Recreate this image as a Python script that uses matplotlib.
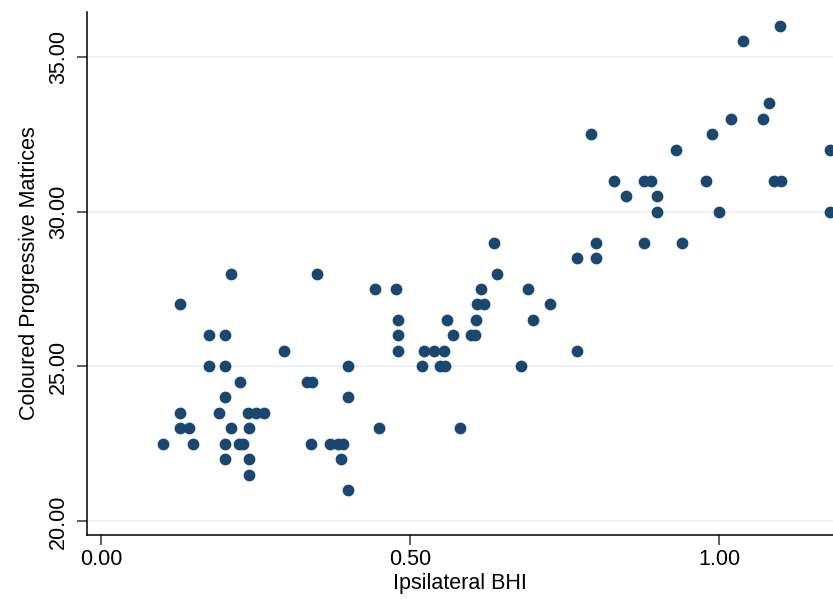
import matplotlib.pyplot as plt

plt.rcParams['font.family'] = ['Liberation Sans', 'DejaVu Sans']

# Ipsilateral BHI vs. Coloured Progressive Matrices score
bhi = [0.100, 0.128, 0.128, 0.128, 0.143, 0.149, 0.174, 0.174, 0.191, 0.200,
       0.200, 0.200, 0.200, 0.200, 0.210, 0.210, 0.225, 0.223, 0.230, 0.238,
       0.240, 0.240, 0.240, 0.250, 0.263, 0.296, 0.333, 0.341, 0.340, 0.350,
       0.370, 0.383, 0.391, 0.389, 0.400, 0.400, 0.400, 0.444, 0.450, 0.477,
       0.480, 0.480, 0.480, 0.520, 0.522, 0.539, 0.549, 0.557, 0.555, 0.559,
       0.570, 0.580, 0.599, 0.605, 0.606, 0.608, 0.620, 0.615, 0.635, 0.640,
       0.680, 0.690, 0.699, 0.726, 0.770, 0.770, 0.793, 0.800, 0.800, 0.829,
       0.849, 0.879, 0.890, 0.879, 0.900, 0.900, 0.930, 0.939, 0.979, 0.989,
       0.999, 1.019, 1.039, 1.070, 1.080, 1.089, 1.100, 1.099, 1.179, 1.179]
cpm = [22.5, 27.0, 23.5, 23.0, 23.0, 22.5, 26.0, 25.0, 23.5, 26.0,
       25.0, 24.0, 22.5, 22.0, 28.0, 23.0, 24.5, 22.5, 22.5, 23.5,
       23.0, 22.0, 21.5, 23.5, 23.5, 25.5, 24.5, 24.5, 22.5, 28.0,
       22.5, 22.5, 22.5, 22.0, 25.0, 24.0, 21.0, 27.5, 23.0, 27.5,
       26.5, 26.0, 25.5, 25.0, 25.5, 25.5, 25.0, 25.0, 25.5, 26.5,
       26.0, 23.0, 26.0, 26.0, 26.5, 27.0, 27.0, 27.5, 29.0, 28.0,
       25.0, 27.5, 26.5, 27.0, 28.5, 25.5, 32.5, 29.0, 28.5, 31.0,
       30.5, 31.0, 31.0, 29.0, 30.5, 30.0, 32.0, 29.0, 31.0, 32.5,
       30.0, 33.0, 35.5, 33.0, 33.5, 31.0, 31.0, 36.0, 32.0, 30.0]

xticks = [0.0, 0.5, 1.0]
yticks = [20, 25, 30, 35]

fig = plt.figure(figsize=(8.33, 5.99), dpi=100)
ax = fig.add_axes([0.1044, 0.1068, 0.8956, 0.8732])

ax.scatter(bhi, cpm, s=72, color="#1a476f", linewidths=0, zorder=3)

ax.set_xlim(-0.0227, 1.184)
ax.set_ylim(19.56, 36.44)
ax.set_xticks(xticks)
ax.set_xticklabels(["%.2f" % t for t in xticks])
ax.set_yticks(yticks)
ax.set_yticklabels(["%.2f" % t for t in yticks], rotation=90, va="center")
ax.grid(axis="y", color="#e8eff2", linewidth=1.3)
ax.set_axisbelow(True)

for side in ["top", "right"]:
    ax.spines[side].set_visible(False)
for side in ["left", "bottom"]:
    ax.spines[side].set_linewidth(1.1)

ax.tick_params(axis="both", length=7, width=1.1, labelsize=15.5, color="#333333")
ax.tick_params(axis="y", pad=6)
ax.tick_params(axis="x", pad=3)
ax.set_xlabel("Ipsilateral BHI", fontsize=15.5, labelpad=2)
ax.set_ylabel("Coloured Progressive Matrices", fontsize=15.5, labelpad=6)

fig.savefig("out.png", dpi=100)
